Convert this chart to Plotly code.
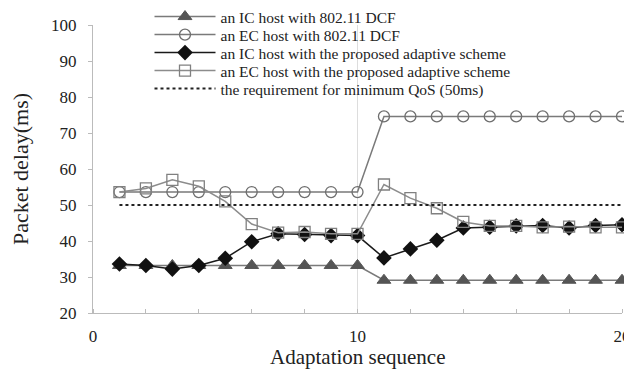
import plotly.graph_objects as go

seq = list(range(1, 21))
ic_dcf = [33.2, 33.2, 33.2, 33.2, 33.2, 33.2, 33.2, 33.2, 33.2, 33.2,
          29.1, 29.1, 29.1, 29.1, 29.1, 29.1, 29.1, 29.1, 29.1, 29.1]
ec_dcf = [53.6, 53.6, 53.6, 53.6, 53.6, 53.6, 53.6, 53.6, 53.6, 53.6,
          74.6, 74.6, 74.6, 74.6, 74.6, 74.6, 74.6, 74.6, 74.6, 74.6]
ic_adapt = [33.6, 33.2, 32.2, 33.2, 35.2, 39.8, 42.0, 41.8, 41.5, 41.5,
            35.3, 37.8, 40.2, 43.6, 43.8, 44.2, 44.3, 43.6, 44.3, 44.5]
ec_adapt = [53.6, 54.6, 57.0, 55.2, 51.0, 44.7, 42.3, 42.5, 42.0, 42.0,
            55.7, 51.9, 49.1, 45.3, 44.2, 44.2, 43.8, 44.0, 43.8, 43.8]
qos_req = [50] * 20

names = ["an IC host with 802.11 DCF",
         "an EC host with 802.11 DCF",
         "an IC host with the proposed adaptive scheme",
         "an EC host with the proposed adaptive scheme",
         "the requirement for minimum QoS (50ms)"]
x_title = "Adaptation sequence"
y_title = "Packet delay(ms)"

font = "Liberation Serif"

fig = go.Figure()
fig.add_trace(go.Scatter(x=seq, y=ic_dcf, name=names[0], mode="lines+markers", legend="legend",
                         line=dict(color="#7a7a7a", width=1.5),
                         marker=dict(symbol="triangle-up", size=12, color="#555555",
                                     line=dict(color="#555555", width=1)),
                         cliponaxis=False))
fig.add_trace(go.Scatter(x=seq, y=ec_dcf, name=names[1], mode="lines+markers", legend="legend2",
                         line=dict(color="#7a7a7a", width=1.5),
                         marker=dict(symbol="circle-open", size=11, color="#6e6e6e",
                                     line=dict(width=1.3)),
                         cliponaxis=False))
fig.add_trace(go.Scatter(x=seq, y=ic_adapt, name=names[2], mode="lines+markers", legend="legend3",
                         line=dict(color="#1a1a1a", width=1.5),
                         marker=dict(symbol="diamond", size=12, color="#111111"),
                         cliponaxis=False))
fig.add_trace(go.Scatter(x=seq, y=ec_adapt, name=names[3], mode="lines+markers", legend="legend4",
                         line=dict(color="#8c8c8c", width=1.5),
                         marker=dict(symbol="square-open", size=11, color="#808080",
                                     line=dict(width=1.3)),
                         cliponaxis=False))
fig.add_trace(go.Scatter(x=seq, y=qos_req, name=names[4], mode="lines", legend="legend5",
                         line=dict(color="#222222", width=2, dash="dot"),
                         cliponaxis=False))

# page body adds an 8px offset, so the figure is drawn 8px smaller
W, H = 624, 364
top, bottom, left, right = 17, 59, 85, 10
plot_h = H - top - bottom
plot_w = W - left - right
row_px = [9, 27, 45, 63, 81]  # legend row centres in figure pixels
leg_common = dict(x=(141.5 - left) / plot_w, xanchor="left", yanchor="middle",
                  bgcolor="rgba(255,255,255,0)",
                  font=dict(size=15.5, family=font, color="#222222"),
                  itemwidth=61)
legends = {}
for i, ypx in enumerate(row_px):
    key = "legend" if i == 0 else f"legend{i + 1}"
    legends[key] = dict(leg_common, y=1 + (top - ypx) / plot_h)

fig.update_layout(
    width=W, height=H,
    margin=dict(l=left, r=right, t=top, b=bottom, autoexpand=False),
    paper_bgcolor="white", plot_bgcolor="white",
    font=dict(family=font, size=17, color="#222222"),
    showlegend=True,
    xaxis=dict(range=[0, 20], tickmode="array", tickvals=[0, 10, 20],
               showgrid=True, gridcolor="#dddddd", gridwidth=1,
               showline=True, linecolor="#bbbbbb", zeroline=False,
               ticks="", ticklen=0,
               minor=dict(tickmode="linear", tick0=0, dtick=2, ticks="inside",
                          ticklen=4, tickcolor="#bbbbbb", showgrid=False),
               tickfont=dict(size=17, family=font), ticklabelstandoff=8),
    yaxis=dict(range=[20, 100], tickmode="linear", tick0=20, dtick=10,
               showgrid=False, showline=True, linecolor="#bbbbbb", zeroline=False,
               ticks="outside", ticklen=4, tickcolor="#bbbbbb",
               tickfont=dict(size=17, family=font), ticklabelstandoff=8,
               title=dict(text=y_title, font=dict(size=22, family=font), standoff=18)),
    annotations=[dict(text=x_title, xref="paper", yref="paper", x=0.5,
                      y=(H - bottom - 349) / plot_h, xanchor="center", yanchor="middle",
                      showarrow=False, font=dict(size=21, family=font, color="#222222"))],
    **legends,
)

fig.write_html("out.html")
